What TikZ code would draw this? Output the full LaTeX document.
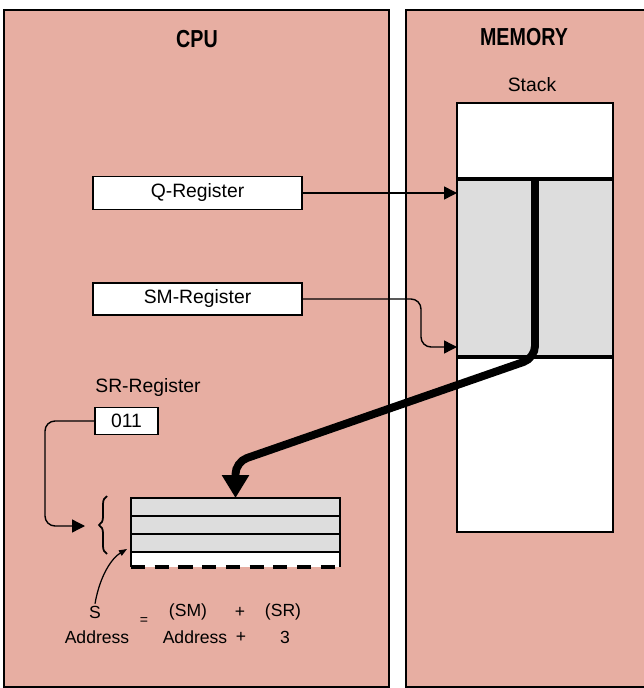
\documentclass[tikz,border=0pt]{standalone}
\usepackage{fontspec}
\setmainfont{Liberation Sans}
\newfontfamily\titlefont[FakeStretch=0.8]{Liberation Sans}
\usetikzlibrary{arrows.meta,positioning,decorations.pathreplacing}
\definecolor{panelpink}{RGB}{231,174,162}
\definecolor{cellgray}{RGB}{221,221,221}

\begin{document}
\begin{tikzpicture}[x=0.02cm, y=-0.02cm, >={Triangle[length=0.26cm,width=0.26cm]},
    panel/.style={draw, line width=1.4pt, fill=panelpink},
    regbox/.style={draw, line width=1.1pt, fill=white, minimum width=4.18cm, minimum height=0.66cm, inner sep=0pt, font=\fontsize{11}{13}\selectfont},
    stk/.style={draw, line width=1.1pt, minimum width=3.12cm, inner sep=0pt, outer sep=0pt},
    cell/.style={draw, line width=0.8pt, fill=cellgray, minimum width=4.18cm, minimum height=0.36cm, inner sep=0pt, outer sep=0pt},
    title/.style={font=\titlefont\bfseries\fontsize{14}{16}\selectfont},
    lbl/.style={font=\fontsize{11}{13}\selectfont},
    eq/.style={font=\fontsize{10}{12}\selectfont, inner sep=1pt},
    link/.style={->, line width=0.8pt, rounded corners=0.2cm},
    fat/.style={-{Triangle[length=0.46cm,width=0.52cm]}, line width=4.5pt, rounded corners=0.24cm}]

    \useasboundingbox (0,0) rectangle (644,688);
    \clip (0,0) rectangle (644,688);

    % Panels
    \draw [panel] (4,10) rectangle (389,687);
    \draw [panel] (406,10) rectangle (660,687);
    \node [title]   (cpu)      at (197,39)  {CPU};
    \node [title]   (mem)      at (524,37)  {MEMORY};
    \node [lbl]     (stacklbl) at (532,85)  {Stack};

    % Stack {top, mid, bottom}
    \node [stk, fill=cellgray, minimum height=3.56cm] (stkmid) at (535,268) {};
    \node [stk, fill=white, minimum height=1.52cm]    (stktop) [above=0pt of stkmid] {};
    \node [stk, fill=white, minimum height=3.5cm]     (stkbot) [below=0pt of stkmid] {};
    \draw [line width=2.8pt] (stkmid.north west) -- (stkmid.north east);
    \draw [line width=2.8pt] (stkmid.south west) -- (stkmid.south east);

    % Registers
    \node [regbox]                     (qreg)  at (197.5,193) {Q-Register};
    \node [regbox, minimum height=0.64cm] (smreg) at (197.5,299) {SM-Register};
    \node [lbl]                        (srlbl) at (148,388)   {SR-Register};
    \node [regbox, minimum width=1.26cm, minimum height=0.54cm] (srbox) at (126.5,421) {011};

    % Register block {reg1, reg2, reg3, free}
    \node [cell]                       (reg1)  at (235.5,507) {};
    \node [cell]                       (reg2)  [below=0pt of reg1] {};
    \node [cell]                       (reg3)  [below=0pt of reg2] {};
    \node [fill=white, minimum width=4.18cm, minimum height=0.3cm, inner sep=0pt, outer sep=0pt] (regfree) [below=0pt of reg3] {};
    \draw [line width=1.1pt] (regfree.north west) -- (regfree.south west);
    \draw [line width=1.1pt] (regfree.north east) -- (regfree.south east);
    \draw [line width=1.8pt, dash pattern=on 8pt off 5.5pt] (regfree.south west) -- (regfree.south east);
    \draw [line width=1.1pt] (reg1.north west) rectangle (reg3.south east);

    % Formula
    \node [eq] (sS)     at (95,612)  {S};
    \node [eq] (sAddr)  at (97,637)  {Address};
    \node [eq, font=\fontsize{8}{10}\selectfont] (eqsign) at (144,621) {=};
    \node [eq] (smS)    at (188,612) {(SM)};
    \node [eq] (smAddr) at (195,637) {Address};
    \node [eq] (plus1)  at (240,612) {+};
    \node [eq] (plus2)  at (241,637) {+};
    \node [eq] (srS)    at (283,612) {(SR)};
    \node [eq] (three)  at (285,637) {3};

    % Paths
    \coordinate (smin) at (457,347);
    \coordinate (srin) at (85,526);
    \coordinate (sin)  at (127,549);
    \draw [link] (qreg.east) -- (qreg.east -| stkmid.west);
    \draw [link] (smreg.east) -| (421,347) -- (smin);
    \draw [link] (srbox.west) -| (45,526) -- (srin);
    \draw [decorate, decoration={brace, amplitude=0.16cm}, line width=1pt] (107,554) -- (107,496);
    \draw [-{Triangle[length=0.16cm,width=0.12cm]}, line width=0.7pt] (sS.north) .. controls (100,575) and (112,558) .. (sin);
    \draw [fat] (stkmid.north) -- (535,358) -- (235.5,462) -- (reg1.north);

\end{tikzpicture}
\end{document}
